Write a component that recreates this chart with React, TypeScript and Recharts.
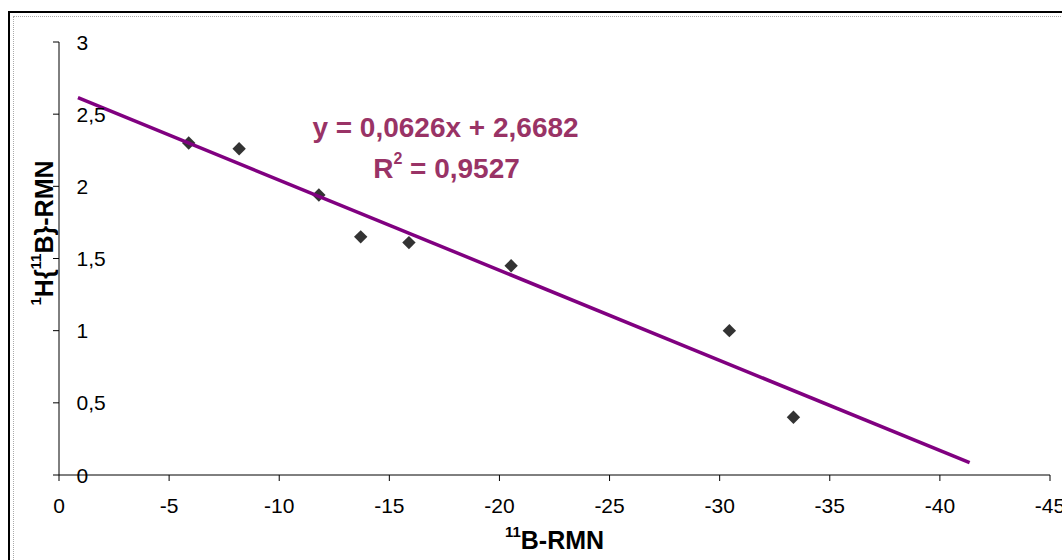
import { ScatterChart, Scatter, XAxis, YAxis, Label } from 'recharts'

// valores
const xValues = [-5.89, -8.18, -11.8, -13.7, -15.89, -20.53, -30.44, -33.35];
const yValues = [2.3, 2.26, 1.94, 1.65, 1.61, 1.45, 1.0, 0.4];
const trendX = [-0.86, -41.35];
const trendY = [2.614, 0.085];
const xTicks = [0, -5, -10, -15, -20, -25, -30, -35, -40, -45];
const yTicks = [0, 0.5, 1, 1.5, 2, 2.5, 3];

const FONT = "Arial, 'Liberation Sans', sans-serif";

const points = xValues.map((x, i) => ({ x, y: yValues[i] }));
const trend = trendX.map((x, i) => ({ x, y: trendY[i] }));

const fmt = (v: number) => String(v).replace('.', ',');

const XTick = (props: any) => (
    <text x={props.x} y={props.y + 32} textAnchor="middle" fontSize={21} fontFamily={FONT} fill="#000">
        {fmt(props.payload.value)}
    </text>
);

const YTick = (props: any) => (
    <text x={props.x + 23.5} y={props.y + 7.5} textAnchor="start" fontSize={21} fontFamily={FONT} fill="#000">
        {fmt(props.payload.value)}
    </text>
);

const Diamond = (props: any) => {
    const { cx, cy } = props;
    const r = 6.7;
    return <polygon points={`${cx},${cy - r} ${cx + r},${cy} ${cx},${cy + r} ${cx - r},${cy}`} fill="#333333" />;
};

export default function App() {
    return (
        <div style={{ position: 'fixed', left: 0, top: 0, width: 1062, height: 560, overflow: 'hidden', background: '#fff' }}>
            {/* marcos */}
            <div style={{ position: 'absolute', left: 8, top: 11, width: 1100, height: 600, border: '2px solid #000' }} />
            <div style={{ position: 'absolute', left: 13, top: 16, width: 1090, height: 590, border: '1px dotted #aaa' }} />

            <div style={{ position: 'absolute', left: 0, top: 0 }}>
                <ScatterChart width={1100} height={560} margin={{ top: 42, right: 50, bottom: 45, left: 19 }}>
                    <XAxis
                        type="number"
                        dataKey="x"
                        domain={[-45, 0]}
                        reversed
                        ticks={xTicks}
                        interval={0}
                        tickSize={6}
                        tickMargin={0}
                        height={40}
                        axisLine={{ stroke: '#000' }}
                        tickLine={{ stroke: '#000' }}
                        tick={<XTick />}
                    >
                        <Label
                            content={() => (
                                <text x={554.5} y={549} textAnchor="middle" fontFamily={FONT} fontWeight="bold" fontSize={25} fill="#000">
                                    <tspan fontSize={15} dy={-12}>11</tspan>
                                    <tspan dy={12}>B-RMN</tspan>
                                </text>
                            )}
                        />
                    </XAxis>
                    <YAxis
                        type="number"
                        dataKey="y"
                        domain={[0, 3]}
                        ticks={yTicks}
                        interval={0}
                        tickSize={6}
                        tickMargin={0}
                        width={40}
                        axisLine={{ stroke: '#000' }}
                        tickLine={{ stroke: '#000' }}
                        tick={<YTick />}
                    >
                        <Label
                            content={() => (
                                <text x={53} y={233} transform="rotate(-90, 53, 233)" textAnchor="middle" fontFamily={FONT} fontWeight="bold" fontSize={25} fill="#000">
                                    <tspan fontSize={15} dy={-12}>1</tspan>
                                    <tspan dy={12}>{'H{'}</tspan>
                                    <tspan fontSize={15} dy={-12}>11</tspan>
                                    <tspan dy={12}>{'B}-RMN'}</tspan>
                                </text>
                            )}
                        />
                    </YAxis>
                    <Scatter data={points} shape={<Diamond />} isAnimationActive={false} />
                    <Scatter
                        data={trend}
                        line={{ stroke: '#800080', strokeWidth: 3.5 }}
                        shape={() => <g />}
                        isAnimationActive={false}
                    />
                </ScatterChart>
            </div>

            <svg style={{ position: 'absolute', left: 0, top: 0 }} width={1062} height={560}>
                <text x={445.5} y={136.5} textAnchor="middle" fontFamily={FONT} fontWeight="bold" fontSize={28} fill="#993366">
                    y = 0,0626x + 2,6682
                </text>
                <text x={446.5} y={178} textAnchor="middle" fontFamily={FONT} fontWeight="bold" fontSize={28} fill="#993366">
                    R<tspan fontSize={16} dy={-14}>2</tspan><tspan dy={14}> = 0,9527</tspan>
                </text>
            </svg>
        </div>
    );
}
